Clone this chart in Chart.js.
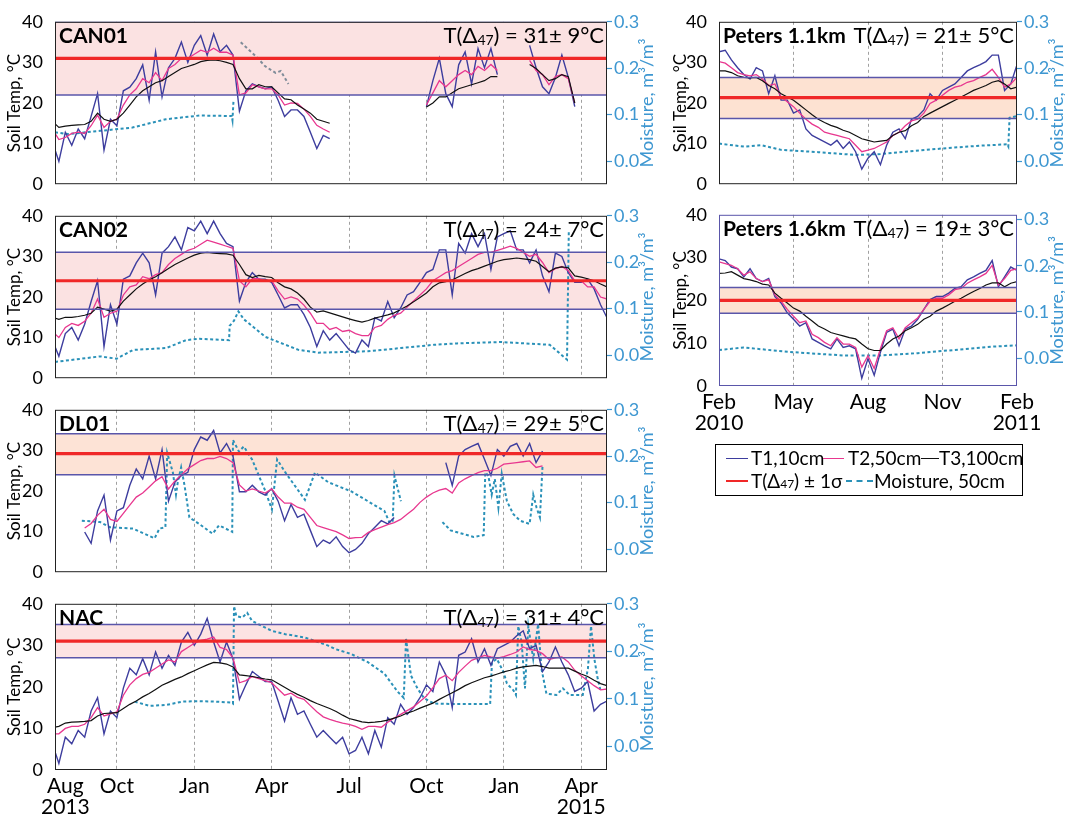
<!DOCTYPE html>
<html>
<head>
<meta charset="utf-8">
<script src="https://cdn.jsdelivr.net/npm/chart.js@4"></script>
<style>
  body { margin: 0; background: #fff; width: 1065px; height: 817px; position: relative; overflow: hidden; font-family: Lato, "DejaVu Sans", sans-serif; }
  canvas { position: absolute; }
  #legend { position: absolute; left: 715px; top: 444px; width: 306px; height: 50px; border: 1px solid #000; background: #fff; }
  #legend .sw { position: absolute; height: 0; }
  #legend .tx { position: absolute; font-size: 19px; line-height: 22px; white-space: nowrap; color: #000; }
  #legend .sb { font-size: 12px; }
</style>
</head>
<body>
<canvas id="c0"></canvas>
<canvas id="c1"></canvas>
<canvas id="c2"></canvas>
<canvas id="c3"></canvas>
<canvas id="c4"></canvas>
<canvas id="c5"></canvas>
<div id="legend">
  <div class="sw" style="left:10px;top:13px;width:22px;border-top:1.5px solid #3d3d9e"></div>
  <div class="tx" style="left:35px;top:2px">T1,10cm</div>
  <div class="sw" style="left:107px;top:13px;width:21px;border-top:1.5px solid #e8378f"></div>
  <div class="tx" style="left:132px;top:2px">T2,50cm</div>
  <div class="sw" style="left:205px;top:13px;width:18px;border-top:1.5px solid #111"></div>
  <div class="tx" style="left:223px;top:2px">T3,100cm</div>
  <div class="sw" style="left:10px;top:35px;width:22px;border-top:2.5px solid #f02828"></div>
  <div class="tx" style="left:35px;top:25px">T(Δ<span class="sb">47</span>) ± 1σ</div>
  <div class="sw" style="left:130px;top:35px;width:27px;border-top:2px dashed #2a91b8"></div>
  <div class="tx" style="left:158px;top:25px">Moisture, 50cm</div>
</div>
<script>
Chart.defaults.font.family = 'Lato, "DejaVu Sans", sans-serif';
Chart.defaults.color = '#000';

// left column: months since 1 Aug 2013, one value every quarter month from -0.5
const leftX0 = -0.5, leftStep = 0.25;
// right column: months since 1 Feb 2010, one value every quarter month from 0
const rightX0 = 0, rightStep = 0.25;

const leftTicks = [0, 2, 5, 8, 11, 14, 17, 20];
const leftTickLabels = [['Aug', '2013'], 'Oct', 'Jan', 'Apr', 'Jul', 'Oct', 'Jan', ['Apr', '2015']];
const rightTicks = [0, 3, 6, 9, 12];
const rightTickLabels = [['Feb', '2010'], 'May', 'Aug', 'Nov', ['Feb', '2011']];

const siteNames = ['CAN01', 'CAN02', 'DL01', 'NAC', 'Peters 1.1km', 'Peters 1.6km'];
const d47Text = ['31± 9°C', '24± 7°C', '29± 5°C', '31± 4°C', '21± 5°C', '19± 3°C'];
const bandLow = [22, 17, 24, 27, 16.2, 17];
const bandMid = [31, 24, 29.2, 31, 21.3, 20];
const bandHigh = [40, 31, 34.1, 35, 26.3, 23];

// ---- CAN01 ----
const can01T1 = [
  10.4, 5.6, 12.8, 9.6, 13.6, 11.2, 16.7, 22.3, 8.4, 16,
  14.4, 23, 23.9, 26, 29.4, 20.7, 32.6, 21.5, 28.7, 31,
  35, 30, 34.2, 36.6, 31.8, 37, 32.6, 34.2, 31.8, 18,
  23, 24.7, 24, 23.5, 24, 20.7, 16.7, 18.3, 18.3, 16.7,
  12.8, 8.8, 12, 11.2, null, null, null, null, null, null,
  null, null, null, null, null, null, null, null, 19.1, 25.5,
  31, 22.3, 19.1, 29.4, 32.6, 24.7, 33.4, 28.7, 33.4, 27,
  null, null, null, null, 34.2, 28.7, 24, 22.3, 26.3, 31.8,
  26.3, 19.1, null, null, null, null, null
];
const can01T2 = [
  13.6, 11, 11.5, 12.5, 12.8, 12.5, 14.4, 17, 14, 15.5,
  16, 19.5, 22, 23.5, 26, 25, 27.5, 25.5, 28.5, 29.5,
  31, 31, 32, 33, 32.5, 33.5, 32.5, 32.5, 31.8, 22,
  22.5, 24.5, 24, 23.5, 23.5, 22, 19.5, 20, 19.9, 18.5,
  16.7, 14.5, 13.6, 12.8, null, null, null, null, null, null,
  null, null, null, null, null, null, null, null, 19.5, 22.5,
  25.5, 24, 25.5, 27, 28, 27, 29, 28, 29.5, 28,
  null, null, null, null, 30.5, 28, 27, 24.5, 26.5, 27,
  26, 20, null, null, null, null, null
];
const can01T3 = [
  15.5, 14, 14.3, 14.5, 14.6, 14.7, 15.5, 17.5, 16, 15.5,
  16, 17.5, 19.5, 21.5, 23, 24, 25, 25.5, 26.5, 27.5,
  28.5, 29, 29.5, 30.2, 30.5, 30.6, 30.4, 30, 29.5, 26,
  23.5, 23.5, 24.5, 24, 24, 22.5, 21, 20.8, 19.5, 18.5,
  17.5, 16, 15.5, 15, null, null, null, null, null, null,
  null, null, null, null, null, null, null, null, 19, 20,
  21.5, 21.5, 22.5, 23.5, 24, 24.5, 25, 25.5, 26.5, 26.5,
  null, null, null, null, 29.5, 28.5, 27, 25.5, 26, 27,
  26.5, 20, null, null, null, null, null
];
const can01MoistX = [-0.4, 0.1, 1.35, 2.6, 3.9, 5.2, 6.45, 6.48, 6.52];
const can01MoistY = [0.062, 0.058, 0.065, 0.072, 0.09, 0.098, 0.097, 0.088, 0.13];
const can01Moist2X = [6.8, 7.4, 7.75, 8.15, 8.35, 8.65];
const can01Moist2Y = [0.256, 0.225, 0.204, 0.19, 0.194, 0.166];

// ---- CAN02 ----
const can02T1 = [
  9.4, 5.4, 11, 12.5, 9.4, 13.3, 18.9, 24, 7.8, 18.1,
  13.3, 24.4, 25.2, 28.4, 30.8, 28.4, 20.5, 30.8, 32.4, 34.8,
  31.6, 37.1, 36.3, 38.7, 35.6, 38.7, 35.6, 33.2, 32.4, 19,
  23.6, 26, 24.4, 24.4, 23.6, 20.5, 17.3, 18.1, 18.1, 15.7,
  12.5, 7.8, 11.7, 9.4, 11, 9, 7, 6.2, 9.4, 7.8,
  14.9, 14.1, 18.9, 14.9, 17.3, 20.5, 21.3, 23.6, 26, 26.8,
  31.6, 31.6, 20.5, 33.2, 30.8, 35.6, 32.4, 35.6, 26.8, 34.8,
  35.6, 36.3, 31.6, 31.6, 28.4, 31.6, 25.2, 21.3, 30.8, 30,
  26, 23.6, 23.6, 24.4, 22, 18.1, 14.9
];
const can02T2 = [
  11.5, 10, 12.5, 13.5, 13, 14, 16, 19.5, 15, 16,
  16.5, 20.5, 22.5, 23, 25, 24.5, 25.5, 26, 28, 29.5,
  30.5, 31.5, 32, 33, 34, 33.5, 33, 32.5, 32, 24,
  22.5, 24.5, 24.5, 24, 24, 21.5, 19.5, 20, 19.5, 18,
  16, 13.5, 13.5, 12, 12.5, 11.5, 11.8, 11, 10.5, 10.5,
  12.5, 13, 14.5, 15.5, 16, 17.5, 19, 20.5, 22, 24,
  25, 26, 26.5, 27.5, 28.5, 29.5, 30.5, 31, 31, 31.5,
  32, 32.5, 32, 31, 30, 30.5, 28.5, 26, 27, 27.5,
  26.5, 24, 24, 22.5, 22.5, 20, 19.5
];
const can02T3 = [
  15, 14.5, 15, 15, 15.2, 15.5, 16, 17.5, 17, 16.5,
  17, 19, 20.5, 22, 23.2, 24.2, 25, 26, 27, 28,
  28.8, 29.6, 30.3, 30.8, 31, 30.8, 30.7, 30.6, 30.3, 28,
  25.5, 24.8, 25.3, 25, 24.8, 23.5, 22.5, 22, 21, 19.5,
  17.5, 16.3, 16.6, 16.1, 15.6, 15.1, 14.6, 14.2, 13.8, 14.2,
  14.8, 15.2, 15.6, 16.1, 16.9, 17.8, 18.8, 19.9, 21, 22.5,
  23.5, 23.8, 24.2, 25, 25.8, 26.5, 27, 27.6, 28.2, 28.8,
  29.2, 29.4, 29.6, 29.4, 29.2, 28.8, 27.5, 26.2, 27.1, 27.4,
  27.2, 25.2, 24.9, 24.5, 24, 23.2, 22.5
];
const can02MoistX = [-0.4, 1.35, 1.99, 2.63, 3.91, 4.68, 5.19, 6.35, 6.37, 6.54, 6.71, 6.92, 7.76, 9.04, 9.81, 11.73, 13.01, 14.29, 15.19, 16.86, 18.78, 19.45, 19.52];
const can02MoistY = [-0.015, -0.003, -0.008, 0.011, 0.015, 0.032, 0.035, 0.032, 0.063, 0.074, 0.094, 0.077, 0.039, 0.011, 0.005, 0.008, 0.015, 0.022, 0.025, 0.028, 0.022, -0.01, 0.27];

// ---- DL01 ----
const dl01T1 = [
  null, null, null, null, null, 9.9, 7.1, 15.1, 19, 7.9,
  15.1, 15.9, 21.4, 25.4, 23, 28.6, 23, 30.2, 17.5, 22.2,
  23.8, 24.6, 30.2, 33.3, 32.5, 34.9, 29.4, 31.7, 28.6, 19.8,
  19.8, 21.4, 19.8, 19, 20.6, 17.5, 12.7, 16.7, 13.5, 14.3,
  10.3, 6.3, 7.9, 7.1, 8.7, 6.3, 4.8, 5.6, 7.1, 9.5,
  11.1, 12.7, 11.9, 13.5, null, null, null, null, null, null,
  null, 27, 21.4, 28.6, 30.2, 31, 31.7, 27.8, 23.8, 30.2,
  28.6, 31, 31.7, 28.6, 31.7, 27, 29.8, null, null, null,
  null, null, null, null, null, null, null
];
const dl01T2 = [
  null, null, null, null, null, 10.9, 12, 14, 15.5, 13,
  12.5, 14.5, 16.5, 18.5, 19.5, 21, 22.5, 23.5, 20.5, 22.5,
  24, 25.5, 26.5, 27.5, 28, 28, 28.5, 28, 27, 21.5,
  20, 20.5, 20, 19.5, 20.5, 18.5, 17, 17, 16, 15.5,
  13.5, 11.5, 11, 10.5, 10, 9.2, 8.3, 8.5, 8.6, 9.8,
  10.5, 11.1, 11.7, 12.2, 13, 14.3, 15.5, 17.2, 18.5, 19.5,
  20.2, 20.6, 19.5, 22, 23, 23.8, 24.5, 25, 25, 25.6,
  26.6, 26.8, 27, 27.2, 27.4, 25.8, 26.2, null, null, null,
  null, null, null, null, null, null, null
];
const dl01MoistX = [0.64, 1.35, 1.73, 2.63, 3.46, 3.65, 3.88, 3.95, 4.17, 4.29, 4.36, 4.49, 4.62, 4.81, 5.19, 5.71, 5.96, 6.47, 6.5, 6.73, 6.92, 7.24, 7.76, 8.01, 8.21, 8.53, 9.29, 9.68, 10.19, 11.09, 12.37, 12.56, 12.69, 12.76, 13.01, 13.5, 14.62, 14.94, 15.83, 16.22, 16.28, 16.4, 16.53, 16.65, 16.79, 16.92, 17.12, 17.37, 17.63, 18.0, 18.14, 18.27, 18.4, 18.5];
const dl01MoistY = [0.061, 0.058, 0.047, 0.044, 0.023, 0.044, 0.047, 0.207, 0.165, 0.117, 0.144, 0.176, 0.1375, 0.068, 0.054, 0.033, 0.051, 0.037, 0.235, 0.21, 0.221, 0.193, 0.124, 0.085, 0.193, 0.165, 0.106, 0.165, 0.144, 0.124, 0.082, 0.058, 0.058, 0.158, 0.103, null, 0.058, 0.04, 0.026, 0.03, 0.165, 0.158, 0.117, 0.151, 0.089, 0.162, 0.103, 0.075, 0.061, 0.054, 0.117, 0.089, 0.068, 0.179];

// ---- NAC ----
const nacT1 = [
  6.3, 1.6, 7.9, 6.3, 9.5, 7.9, 14.2, 17.4, 8.7, 14.2,
  12.6, 19.7, 24.5, 22.9, 26.8, 22.9, 28.4, 24.5, 27.6, 25.2,
  30.8, 33.1, 30, 32.7, 36.5, 30.8, 26, 30.8, 26.8, 17,
  20.5, 23.7, 22.5, 21.3, 21.3, 16.6, 11.8, 17.4, 13.4, 14.2,
  11, 7.9, 9.5, 7.9, 6.3, 7.9, 3.9, 4.7, 7.9, 3.9,
  9.5, 5.5, 12.6, 11, 15.8, 13.4, 15, 17.4, 20.5, 18.9,
  26, 22.9, 15, 27.6, 28.4, 31.6, 26, 29.2, 25.2, 29.2,
  30, 30.8, 32.3, 33.5, 29.2, 30, 23.7, 26, 29.6, 26,
  22.9, 18.9, 19.7, 21.3, 14.2, 15.8, 16.6
];
const nacT2 = [
  8.7, 8.7, 10, 10.5, 10.5, 11, 12.6, 15, 13, 13.5,
  14, 18, 20.5, 22, 23, 23.5, 24.5, 25.5, 26.5, 26,
  28.5, 29.5, 30.5, 31.2, 31.5, 32, 29.5, 29, 27, 21,
  21.5, 22.5, 22, 21.5, 21, 19.5, 18, 18.5, 17.5, 17,
  15.5, 14, 12.8, 12.2, 11.7, 11.3, 11, 10.5, 9.8, 10.5,
  10.5, 10.3, 11.5, 12.5, 13.4, 14.3, 15.2, 16.5, 17.8, 19.8,
  22, 22.8, 21.5, 23.5, 25, 26.4, 27, 27.6, 27.2, 26.9,
  27.3, 27.8, 28.4, 29.6, 29, 28.8, 28, 26.6, 27, 27.2,
  26, 24, 22.7, 21.5, 20.3, 19.3, 19.5
];
const nacT3 = [
  10.2, 10.5, 11.3, 11.5, 11.6, 11.7, 11.9, 13, 13.6, 13.7,
  13.8, 14.8, 15.8, 16.6, 17.6, 18.4, 19.4, 20.4, 21.1, 21.8,
  22.4, 23.2, 23.9, 24.6, 25.3, 25.9, 25.8, 25.5, 24.8, 22.9,
  22.7, 22.5, 22.2, 21.9, 21.7, 20.8, 19.9, 19, 18.2, 17.5,
  16.7, 16, 15.4, 14.8, 14.1, 13.2, 12.4, 12, 11.6, 11.4,
  11.5, 11.7, 12, 12.5, 13, 13.7, 14.2, 14.9, 15.5, 16.1,
  17, 17.8, 18.6, 19.4, 20.3, 21, 21.6, 22.2, 22.6, 23.1,
  23.6, 24, 24.5, 24.8, 25, 25.2, 24.9, 24.5, 24.5, 24.5,
  24.5, 23.8, 23.1, 22.5, 21.6, 20.8, 20.3
];
const nacMoistX = [2.69, 3.27, 3.91, 4.55, 5.19, 5.83, 6.45, 6.5, 6.54, 6.63, 6.86, 7.05, 7.24, 7.63, 8.01, 8.53, 9.29, 10.19, 10.45, 11.09, 11.73, 12.37, 12.88, 13.12, 13.21, 13.4, 13.65, 13.91, 14.29, 14.94, 15.58, 16.47, 16.54, 16.73, 16.99, 17.12, 17.37, 17.47, 17.56, 17.69, 17.82, 17.95, 18.14, 18.33, 18.46, 18.65, 19.04, 19.29, 19.55, 20.06, 20.26, 20.38, 20.51, 20.64, 20.76];
const nacMoistY = [0.094, 0.085, 0.087, 0.094, 0.095, 0.094, 0.092, 0.09, 0.295, 0.274, 0.271, 0.281, 0.264, 0.253, 0.243, 0.236, 0.229, 0.212, 0.205, 0.194, 0.177, 0.153, 0.115, 0.102, 0.226, 0.149, 0.122, 0.101, 0.09, 0.089, 0.089, 0.089, 0.177, 0.184, 0.156, 0.132, 0.118, 0.108, 0.253, 0.219, 0.122, 0.253, 0.184, 0.257, 0.163, 0.111, 0.108, 0.122, 0.108, 0.108, 0.163, 0.253, 0.184, 0.142, 0.115];

// ---- Peters 1.1km ----
const p11T1 = [
  32.6, 33, 30.6, 28.7, 27, 25.9, 28.7, 27.9, 22.3, 26.7,
  20.7, 20.7, 17.5, 18.3, 13.6, 12, 11.2, 10.4, 9.6, 10.8,
  8.8, 10.4, 8, 3.7, 6.4, 8, 4.8, 9.6, 12.8, 13.6,
  11.2, 16, 16.7, 18.3, 22.3, 20.7, 23.1, 23.9, 24.7, 26.3,
  27.9, 28.7, 29.4, 30.2, 31.8, 31.8, 23.1, 24.7, 29.4
];
const p11T2 = [
  30.2, 29.8, 28.7, 27.5, 27, 26.7, 27, 25.9, 24.3, 24.7,
  21.5, 20.3, 19.1, 17.5, 16, 14.8, 14, 12.8, 12.4, 12,
  11.6, 11.2, 9.6, 8, 8.4, 8.8, 9.6, 10.4, 12, 12.8,
  14.4, 15.6, 16, 17.5, 19.9, 20.7, 21.9, 23.1, 23.9, 24.3,
  25.1, 25.5, 26.3, 27, 28.3, 26.3, 23.9, 24.7, 26.3
];
const p11T3 = [
  27.9, 27.9, 27.5, 26.7, 26.3, 26.2, 26.3, 25.5, 24.3, 23.5,
  22.3, 21.5, 20.7, 19.5, 18.3, 17.1, 16, 15.2, 14.5, 14,
  13.3, 12.8, 12, 11.2, 10.8, 10.4, 10.6, 10.8, 12, 12.8,
  13.2, 14.4, 15.2, 16.7, 17.5, 18.3, 19.1, 19.9, 20.7, 21.5,
  22.3, 23.1, 23.7, 24.3, 25.1, 25.5, 24.7, 23.5, 23.9
];
const p11MoistX = [0, 1.0, 1.7, 2.5, 4, 5.5, 6.5, 7.5, 9, 10.5, 11.6, 11.65, 11.7, 12];
const p11MoistY = [0.0375, 0.031, 0.034, 0.024, 0.019, 0.013, 0.015, 0.02, 0.027, 0.033, 0.036, 0.031, 0.093, 0.097];

// ---- Peters 1.6km ----
const p16T1 = [
  29.7, 29.3, 27.8, 27.4, 25.5, 27.4, 25.1, 24.4, 25.1, 20.9,
  19.4, 17.1, 15.6, 14, 14.8, 11, 10.2, 9.4, 8.7, 11,
  9, 9.4, 8.7, 1.8, 6.4, 2.5, 7.9, 12.5, 13.3, 9.4,
  13.3, 14, 15.6, 17.9, 20.2, 20.9, 20.9, 21.7, 22.8, 23.2,
  24.8, 25.5, 26.3, 27, 29.3, 23.2, 25.5, 27.8, 27
];
const p16T2 = [
  29, 28.6, 28.2, 27.4, 25.9, 26.7, 25.1, 24.4, 24.8, 21.3,
  19.8, 17.9, 16.3, 14.8, 15.2, 12.1, 11.3, 10.2, 9.4, 11.3,
  9.8, 9.8, 9, 4.4, 7.1, 4.1, 8.7, 12.9, 13.6, 11,
  13.6, 14.8, 15.9, 17.9, 19.8, 20.5, 20.5, 21.3, 22.5, 22.8,
  24, 24.8, 25.5, 26.3, 28.2, 23.6, 25.1, 27, 27.4
];
const p16T3 = [
  26.3, 26.4, 26.7, 25.9, 25.1, 24.8, 24.4, 23.8, 23.6, 21.7,
  20.5, 19.4, 18.2, 17.5, 16.3, 15.2, 14, 13.3, 12.5, 12.1,
  11.7, 11.3, 11, 9.8, 8.7, 8.3, 8.3, 9.8, 11, 11.7,
  12.9, 13.6, 14.4, 15.6, 16.3, 17.5, 18.2, 19, 19.8, 20.5,
  21.3, 22.1, 22.8, 23.6, 24.1, 24.1, 23.2, 24, 24.4
];
const p16MoistX = [0, 1, 3, 5, 6.5, 8, 9.5, 11, 12];
const p16MoistY = [0.018, 0.023, 0.013, 0.006, 0.006, 0.011, 0.018, 0.025, 0.028];

const C_T1 = '#3d3d9e', C_T2 = '#e8378f', C_T3 = '#111111';
const C_RED = '#f02828', C_BAND = '#5a56aa', C_MOIST = '#2a91b8', C_AXIS2 = '#3e97d1';

function drawPanel(p) {
  const cv = document.getElementById(p.id);
  cv.width = p.w; cv.height = p.h;
  cv.style.left = p.left + 'px'; cv.style.top = p.top + 'px';

  const series = vals => vals.map((v, i) => ({x: p.x0 + i * p.step, y: v}));
  const pairs = (xs, ys) => xs.map((x, i) => ({x: x, y: ys[i]}));
  const flat = v => [{x: p.xmin, y: v}, {x: p.xmax, y: v}];
  const line = (data, color, width, order, extra) => Object.assign({
    data: data, borderColor: color, borderWidth: width, pointRadius: 0, fill: false,
    tension: 0, spanGaps: false, order: order, yAxisID: 'y'
  }, extra || {});

  const k = p.site;
  const datasets = [
    line(flat(bandLow[k]), C_BAND, 1.5, 1),
    line(flat(bandHigh[k]), C_BAND, 1.5, 1, {fill: '-1', backgroundColor: p.fillColor}),
    line(flat(bandMid[k]), C_RED, 3.2, 0)
  ];
  p.moist.forEach(m => datasets.push(line(pairs(m[0], m[1]), m[2], 2, 5, {yAxisID: 'y1', borderDash: [3, 2.5]})));
  if (p.t1) datasets.push(line(series(p.t1), C_T1, 1.4, 4));
  if (p.t2) datasets.push(line(series(p.t2), C_T2, 1.3, 3));
  if (p.t3) datasets.push(line(series(p.t3), C_T3, 1.2, 2));

  const decor = {
    id: 'decor' + p.id,
    afterDatasetsDraw(chart) {
      const ctx = chart.ctx, a = chart.chartArea;
      ctx.save();
      ctx.strokeStyle = p.frameColor;
      ctx.lineWidth = 1;
      ctx.strokeRect(a.left + 0.5, a.top + 0.5, a.right - a.left - 1, a.bottom - a.top - 1);
      ctx.fillStyle = '#000';
      ctx.textBaseline = 'alphabetic';
      ctx.textAlign = 'left';
      ctx.font = 'bold 21px Lato, "DejaVu Sans", sans-serif';
      ctx.fillText(siteNames[k], a.left + 4, a.top + 21);
      const big = '22px Lato, "DejaVu Sans", sans-serif', small = '14px Lato, "DejaVu Sans", sans-serif';
      const s1 = 'T(Δ', s2 = '47', s3 = ') = ' + d47Text[k];
      ctx.font = big;
      const w1 = ctx.measureText(s1).width, w3 = ctx.measureText(s3).width;
      ctx.font = small;
      const w2 = ctx.measureText(s2).width;
      let x = a.right - 3 - (w1 + w2 + w3);
      const y = a.top + 21;
      ctx.font = big; ctx.fillText(s1, x, y); x += w1;
      ctx.font = small; ctx.fillText(s2, x, y + 2); x += w2;
      ctx.font = big; ctx.fillText(s3, x, y);
      // moisture axis title, reading bottom to top
      ctx.translate(p.mTitleX, (a.top + a.bottom) / 2);
      ctx.rotate(-Math.PI / 2);
      ctx.textAlign = 'center';
      ctx.textBaseline = 'middle';
      ctx.fillStyle = C_AXIS2;
      ctx.font = '18px Lato, "DejaVu Sans", sans-serif';
      ctx.fillText('Moisture, m³/m³', 0, 0);
      ctx.restore();
    }
  };

  new Chart(cv, {
    type: 'line',
    data: {datasets: datasets},
    plugins: [decor],
    options: {
      responsive: false,
      animation: false,
      devicePixelRatio: 1,
      layout: {padding: {top: 12, left: 0, right: 0, bottom: 0}},
      plugins: {legend: {display: false}, tooltip: {enabled: false}, filler: {drawTime: 'beforeDatasetsDraw'}},
      scales: {
        x: {
          type: 'linear', min: p.xmin, max: p.xmax,
          afterBuildTicks: s => { s.ticks = p.ticks.map(v => ({value: v})); },
          afterFit: s => { s.height = p.xh; },
          ticks: {
            display: p.showX, autoSkip: false, maxRotation: 0, minRotation: 0, padding: 6,
            font: {size: 21, lineHeight: 1.0}, color: '#000',
            callback: (v, i) => p.tickLabels[i]
          },
          grid: {
            drawTicks: false, lineWidth: 1,
            color: c => (c.tick && p.gridTicks.includes(c.tick.value)) ? '#a0a0a0' : 'rgba(0,0,0,0)'
          },
          border: {display: false, dash: [3, 3]}
        },
        y: {
          position: 'left', min: 0, max: 40,
          afterBuildTicks: s => { s.ticks = [0, 10, 20, 30, 40].map(v => ({value: v})); },
          afterFit: s => { s.width = p.yw; },
          ticks: {font: {size: 18}, color: '#000', padding: 4},
          grid: {display: false},
          border: {display: false},
          title: {display: true, text: 'Soil Temp, °C', color: '#000', font: {size: 17, lineHeight: 1.2}, padding: {top: p.ytp, bottom: 0}}
        },
        y1: {
          position: 'right', min: p.mmin, max: p.mmax,
          afterBuildTicks: s => { s.ticks = [0, 0.1, 0.2, 0.3].map(v => ({value: v})); },
          afterFit: s => { s.width = p.y1w; },
          ticks: {font: {size: 18}, color: C_AXIS2, padding: 2, callback: v => v.toFixed(1)},
          grid: {display: true, drawOnChartArea: false, drawTicks: true, tickLength: 5, tickColor: C_AXIS2, tickWidth: 1.2},
          border: {display: false}
        }
      }
    }
  });
}

const leftBase = {
  left: 0, w: 665, x0: leftX0, step: leftStep, xmin: -0.4, xmax: 21,
  ticks: leftTicks, tickLabels: leftTickLabels, gridTicks: [2, 5, 8, 11, 14, 17, 20],
  yw: 55, y1w: 58, ytp: 4, mTitleX: 647, mmin: -0.05, mmax: 0.3, frameColor: '#222'
};
const rightBase = {
  left: 660, w: 405, x0: rightX0, step: rightStep, xmin: 0, xmax: 12,
  ticks: rightTicks, tickLabels: rightTickLabels, gridTicks: [3, 6, 9],
  yw: 59, y1w: 48, ytp: 10, mTitleX: 397, mmin: -0.05, mmax: 0.3, frameColor: '#222'
};

drawPanel(Object.assign({}, leftBase, {id: 'c0', site: 0, top: 7, h: 192, xh: 12, showX: false,
  fillColor: '#fbe2e2', t1: can01T1, t2: can01T2, t3: can01T3,
  moist: [[can01MoistX, can01MoistY, C_MOIST], [can01Moist2X, can01Moist2Y, '#7f8c99']]}));
drawPanel(Object.assign({}, leftBase, {id: 'c1', site: 1, top: 201, h: 192, xh: 12, showX: false,
  fillColor: '#fbe2e2', t1: can02T1, t2: can02T2, t3: can02T3,
  moist: [[can02MoistX, can02MoistY, C_MOIST]]}));
drawPanel(Object.assign({}, leftBase, {id: 'c2', site: 2, top: 395, h: 192, xh: 12, showX: false,
  fillColor: '#fde3d6', t1: dl01T1, t2: dl01T2, t3: null,
  moist: [[dl01MoistX, dl01MoistY, C_MOIST]]}));
drawPanel(Object.assign({}, leftBase, {id: 'c3', site: 3, top: 589, h: 227, xh: 46, showX: true,
  fillColor: '#fce3e3', t1: nacT1, t2: nacT2, t3: nacT3,
  moist: [[nacMoistX, nacMoistY, C_MOIST]]}));
drawPanel(Object.assign({}, rightBase, {id: 'c4', site: 4, top: 7, h: 192, xh: 12, showX: false,
  fillColor: '#fde2d2', t1: p11T1, t2: p11T2, t3: p11T3,
  moist: [[p11MoistX, p11MoistY, C_MOIST]]}));
drawPanel(Object.assign({}, rightBase, {id: 'c5', site: 5, top: 200, h: 238, xh: 52, showX: true,
  mmin: -0.06, mmax: 0.31, frameColor: '#5a56aa',
  fillColor: '#fde2d2', t1: p16T1, t2: p16T2, t3: p16T3,
  moist: [[p16MoistX, p16MoistY, C_MOIST]]}));
</script>
</body>
</html>
